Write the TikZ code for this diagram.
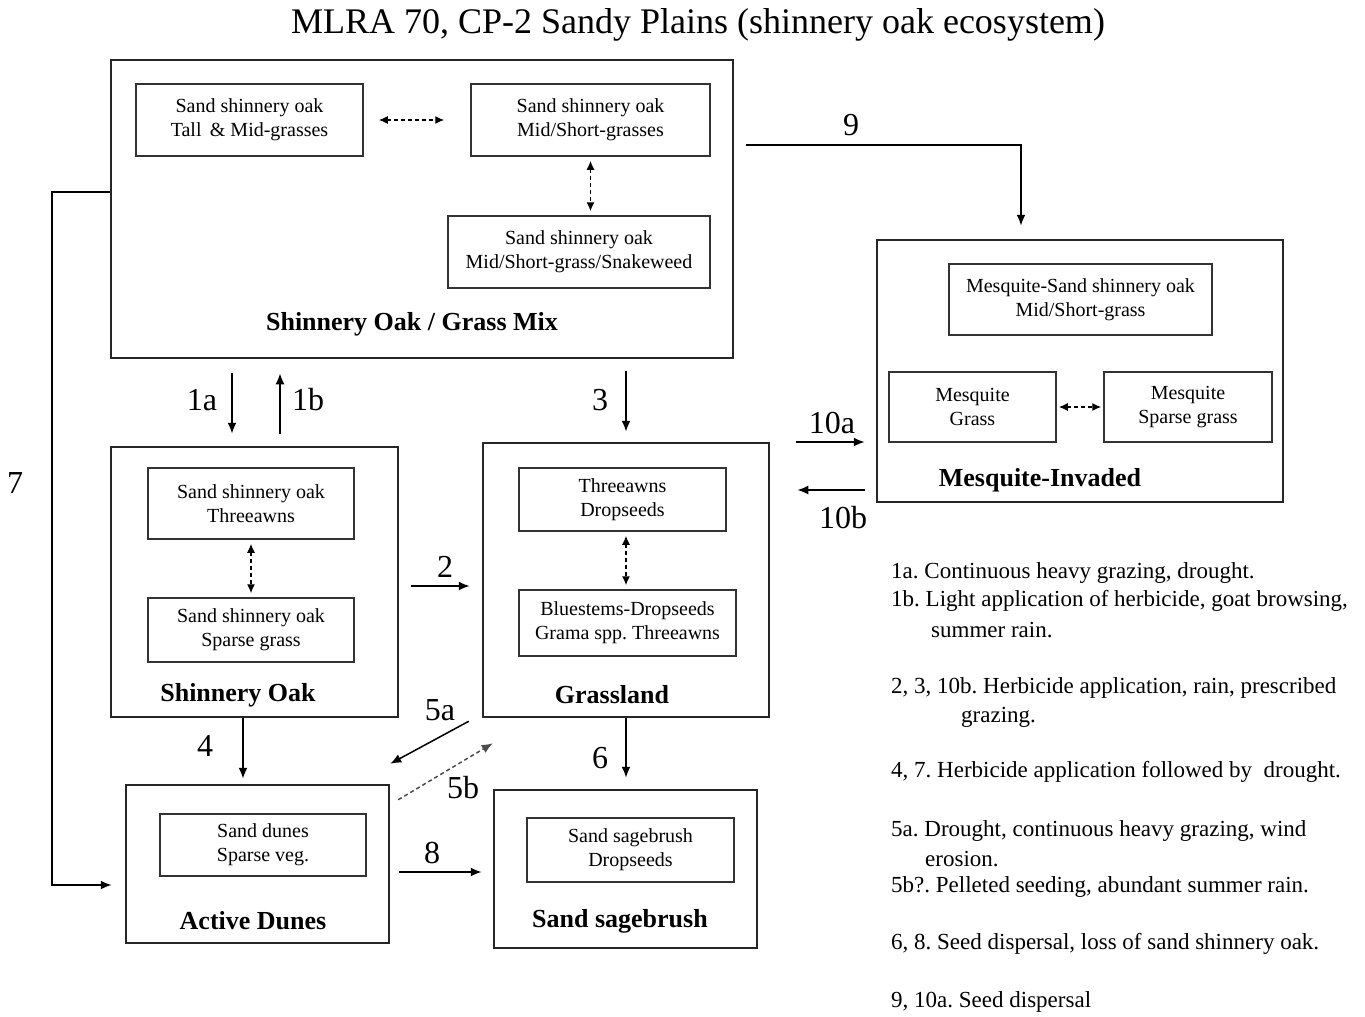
\documentclass[tikz,border=0pt]{standalone}
\usepackage{fontspec}
\setmainfont{Liberation Serif}
\usetikzlibrary{arrows.meta}
\frenchspacing

\tikzset{
  statebox/.style={draw=black!85, line width=2.5pt, inner sep=0pt},
  phasebox/.style={draw=black!80, line width=1.5pt, inner sep=0pt, align=center,
    font=\fontsize{20}{24}\selectfont},
  statename/.style={font=\bfseries\fontsize{26}{30}\selectfont},
  num/.style={font=\fontsize{32}{36}\selectfont},
  note/.style={anchor=west, inner sep=0pt, font=\fontsize{23}{26}\selectfont},
  trans/.style={->, line width=1.8pt, >={Latex[length=11pt,width=9pt]}},
  phaseshift/.style={<->, dashed, line width=1.4pt, dash pattern=on 4pt off 3pt,
    >={Latex[length=9pt,width=8pt]}}
}

\begin{document}
\begin{tikzpicture}[x=1pt,y=-1pt]
  \useasboundingbox (0,0) rectangle (1365,1017);

  \node at (698,25) (title) {\fontsize{36}{40}\selectfont MLRA 70, CP-2 Sandy Plains (shinnery oak ecosystem)};

  % states
  \node[statebox, minimum width=622pt, minimum height=298pt] at (422,209) (mix) {};
  \node[statebox, minimum width=406pt, minimum height=262pt] at (1080,371) (mesq) {};
  \node[statebox, minimum width=287pt, minimum height=270pt] at (254.5,582) (oak) {};
  \node[statebox, minimum width=286pt, minimum height=274pt] at (626,580) (grass) {};
  \node[statebox, minimum width=263pt, minimum height=158pt] at (257.5,864) (dunes) {};
  \node[statebox, minimum width=263pt, minimum height=158pt] at (625.5,869) (sage) {};

  % phases
  \node[phasebox, minimum width=227pt, minimum height=72pt] at (249.5,120) (mixA) {Sand shinnery oak\\Tall \,\& Mid-grasses};
  \node[phasebox, minimum width=239pt, minimum height=72pt] at (590.5,120) (mixB) {Sand shinnery oak\\Mid/Short-grasses};
  \node[phasebox, minimum width=262pt, minimum height=72pt] at (579,252) (mixC) {Sand shinnery oak\\Mid/Short-grass/Snakeweed};
  \node[phasebox, minimum width=263pt, minimum height=71pt] at (1080.5,299.5) (mesqA) {Mesquite-Sand shinnery oak\\Mid/Short-grass};
  \node[phasebox, minimum width=167pt, minimum height=70pt] at (972.5,407) (mesqB) {Mesquite\\Grass};
  \node[phasebox, minimum width=168pt, minimum height=70pt] at (1188,407) (mesqC) {Mesquite\\Sparse grass};
  \node[phasebox, minimum width=206pt, minimum height=71pt] at (251,503.5) (oakA) {Sand shinnery oak\\Threeawns};
  \node[phasebox, minimum width=206pt, minimum height=64pt] at (251,630) (oakB) {Sand shinnery oak\\Sparse grass};
  \node[phasebox, minimum width=207pt, minimum height=63pt] at (622.5,499.5) (grassA) {Threeawns\\Dropseeds};
  \node[phasebox, minimum width=217pt, minimum height=66pt] at (627.5,623) (grassB) {Bluestems-Dropseeds\\Grama spp. Threeawns};
  \node[phasebox, minimum width=206pt, minimum height=62pt] at (263,845) (dunesA) {Sand dunes\\Sparse veg.};
  \node[phasebox, minimum width=207pt, minimum height=64pt] at (630.5,850) (sageA) {Sand sagebrush\\Dropseeds};

  % state names
  \node[statename] at (412,324) (mixN) {Shinnery Oak / Grass Mix};
  \node[statename] at (1040,480) (mesqN) {Mesquite-Invaded};
  \node[statename] at (238,695) (oakN) {Shinnery Oak};
  \node[statename] at (612,695) (grassN) {Grassland};
  \node[statename] at (253,921) (dunesN) {Active Dunes};
  \node[statename] at (620,921) (sageN) {Sand sagebrush};

  % community shifts
  \draw[phaseshift, shorten <=15pt, shorten >=26pt] (mixA.east) -- (mixB.west);
  \draw[phaseshift, shorten <=4pt, shorten >=4pt] (mixB.south) -- (mixB.south |- mixC.north);
  \draw[phaseshift, shorten <=2pt, shorten >=2pt] (mesqB.east) -- (mesqC.west);
  \draw[phaseshift, shorten <=4pt, shorten >=4pt] (oakA.south) -- (oakB.north);
  \draw[phaseshift, shorten <=4pt, shorten >=4pt] ([xshift=3.5pt]grassA.south) -- ([xshift=3.5pt]grassA.south |- grassB.north);

  % transitions
  \coordinate (p1a) at ([xshift=-190pt]mix.south);
  \coordinate (p1b) at ([xshift=-142pt]mix.south);
  \coordinate (p3) at ([xshift=204pt]mix.south);
  \coordinate (p9) at ([yshift=64pt]mix.east);
  \coordinate (q9) at ([xshift=-59pt]mesq.north);
  \coordinate (p10a) at ([yshift=138pt]grass.east);
  \coordinate (p10b) at ([yshift=90pt]grass.east);
  \coordinate (p2) at ([yshift=-4pt]oak.east);
  \coordinate (p4) at ([xshift=-11.5pt]oak.south);
  \coordinate (p6) at (grass.south);
  \coordinate (p8) at ([yshift=-8pt]dunes.east);
  \coordinate (p5a) at ([xshift=-13pt,yshift=-3pt]grass.south west);
  \coordinate (q5a) at ([yshift=20pt]dunes.north east);
  \coordinate (p5b) at ([xshift=8pt,yshift=-16pt]dunes.north east);
  \coordinate (q5b) at ([xshift=11pt,yshift=-25pt]grass.south west);
  \coordinate (p7) at ([xshift=-58pt,yshift=17pt]mix.west);
  \coordinate (q7) at ([yshift=-21pt]dunes.west);

  \draw[trans, shorten <=14pt, shorten >=12pt] (p1a) -- (p1a |- oak.north);
  \draw[trans, shorten <=12pt, shorten >=14pt] (p1b |- oak.north) -- (p1b);
  \draw[trans, shorten <=12pt, shorten >=10pt] (p3) -- (p3 |- grass.north);
  \draw[trans, shorten <=12pt, shorten >=13pt] (p9) -| (q9);
  \draw[trans, shorten <=26pt, shorten >=11pt] (p10a) -- (p10a -| mesq.west);
  \draw[trans, shorten <=11pt, shorten >=27pt] (p10b -| mesq.west) -- (p10b);
  \draw[trans, shorten <=12pt, shorten >=12pt] (p2) -- (p2 -| grass.west);
  \draw[trans, shorten >=5pt] (p4) -- (p4 |- dunes.north);
  \draw[trans, shorten >=11pt] (p6) -- (p6 |- sage.north);
  \draw[trans, shorten <=9pt, shorten >=11pt] (p8) -- (p8 -| sage.west);
  \draw[trans, line width=1.5pt] (p5a) -- (q5a);
  \draw[trans, line width=1.5pt, dashed, dash pattern=on 4pt off 3pt, draw=black!70] (p5b) -- (q5b);
  \draw[trans, shorten >=13pt] ([yshift=17pt]mix.west) -- (p7) |- (q7);

  % transition numbers
  \node[num] at (202,400) (n1a) {1a};
  \node[num] at (308,400) (n1b) {1b};
  \node[num] at (600,400) (n3) {3};
  \node[num] at (851,125) (n9) {9};
  \node[num] at (832,423) (n10a) {10a};
  \node[num] at (843,518) (n10b) {10b};
  \node[num] at (445,567) (n2) {2};
  \node[num] at (205,746) (n4) {4};
  \node[num] at (600,758) (n6) {6};
  \node[num] at (440,710) (n5a) {5a};
  \node[num] at (463,788) (n5b) {5b};
  \node[num] at (432,853) (n8) {8};
  \node[num] at (15,483) (n7) {7};

  % key to transitions
  \node[note] at (891,573) (k1a) {1a. Continuous heavy grazing, drought.};
  \node[note] at (891,601) (k1b) {1b. Light application of herbicide, goat browsing,};
  \node[note] at (931,630) (k1c) {summer rain.};
  \node[note] at (891,688) (k2) {2, 3, 10b. Herbicide application, rain, prescribed};
  \node[note] at (961,717) (k2b) {grazing.};
  \node[note] at (891,772) (k4) {4, 7. Herbicide application followed by \ drought.};
  \node[note] at (891,831) (k5a) {5a. Drought, continuous heavy grazing, wind};
  \node[note] at (925,859) (k5c) {erosion.};
  \node[note] at (891,887) (k5b) {5b?. Pelleted seeding, abundant summer rain.};
  \node[note] at (891,944) (k6) {6, 8. Seed dispersal, loss of sand shinnery oak.};
  \node[note] at (891,1002) (k9) {9, 10a. Seed dispersal};
\end{tikzpicture}
\end{document}
